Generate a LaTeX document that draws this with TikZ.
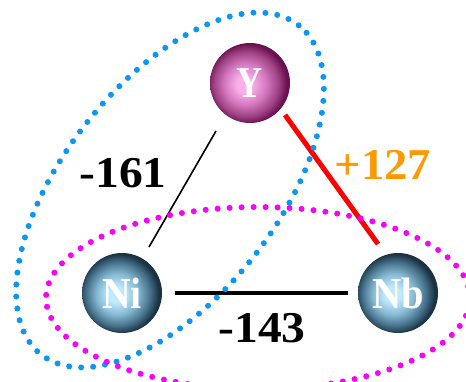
\documentclass[tikz,border=0pt]{standalone}
\usepackage{fontspec}
\setmainfont{Liberation Serif}
\definecolor{ylight}{HTML}{F8B0E8}
\definecolor{ymidA}{HTML}{D478C0}
\definecolor{ymidB}{HTML}{A04486}
\definecolor{ydark}{HTML}{6A1050}
\definecolor{nlight}{HTML}{C0EAFC}
\definecolor{nmidA}{HTML}{84B8D2}
\definecolor{nmidB}{HTML}{46708A}
\definecolor{ndark}{HTML}{1A3242}
\definecolor{dotblue}{RGB}{10,150,245}
\definecolor{dotmag}{RGB}{250,0,250}
\definecolor{lblorange}{RGB}{255,153,0}
\pgfdeclareradialshading{yball}{\pgfpoint{-4bp}{-1bp}}{color(0bp)=(ylight); color(5bp)=(ylight); color(13bp)=(ymidA); color(20bp)=(ymidB); color(25bp)=(ydark); color(50bp)=(ydark)}
\pgfdeclareradialshading{nball}{\pgfpoint{-4bp}{-1bp}}{color(0bp)=(nlight); color(5bp)=(nlight); color(13bp)=(nmidA); color(20bp)=(nmidB); color(25bp)=(ndark); color(50bp)=(ndark)}
\tikzset{
  ball/.style={circle, minimum size=80pt, inner sep=0pt, text=white,
    font=\fontsize{44}{44}\selectfont\bfseries},
  yb/.style={ball, shade, shading=yball},
  nbb/.style={ball, shade, shading=nball},
  lbl/.style={inner sep=0pt, font=\fontsize{44}{44}\selectfont\bfseries},
  dotline/.style={line width=6pt, line cap=round, dash pattern=on 0pt off 12pt},
}
\begin{document}
\begin{tikzpicture}[x=1pt,y=1pt]
\useasboundingbox (0,0) rectangle (466,381);
\path (250,298) coordinate (Yc) (122,88) coordinate (Nic) (398,88) coordinate (Nbc);
% bonds
\draw[line width=1.6pt] ([shift={(-125.3:58.8)}]Yc) -- ([shift={(59.6:53.3)}]Nic);
\draw[line width=5pt, red] ([shift={(-42.4:47.4)}]Yc) -- ([shift={(112.2:52.9)}]Nbc);
\draw[line width=3.5pt] ([shift={(0:53)}]Nic) -- ([shift={(180:50)}]Nbc);
% dotted ellipses
\begin{scope}
\clip (0,0) rectangle (466,381);
\draw[dotline, dotblue, rotate around={52:(170,191)}] (170,191) ellipse [x radius=209, y radius=107];
\draw[dotline, dotmag] (258,83) ellipse [x radius=212, y radius=91];
\end{scope}
% atoms
\node[yb] (Y) at (Yc) {\scalebox{0.82}[1]{Y}};
\node[nbb] (Ni) at (Nic) {\scalebox{0.9}[1]{Ni}};
\node[nbb] (Nb) at (Nbc) {\scalebox{0.92}[1]{Nb}};
% labels
\node[lbl] (l161) at (123,208) {\scalebox{1.08}[1]{-161}};
\node[lbl, text=lblorange] (l127) at (383,216) {\scalebox{1.06}[1]{+127}};
\node[lbl] (l143) at (262,53) {\scalebox{1.08}[1]{-143}};
\end{tikzpicture}
\end{document}
